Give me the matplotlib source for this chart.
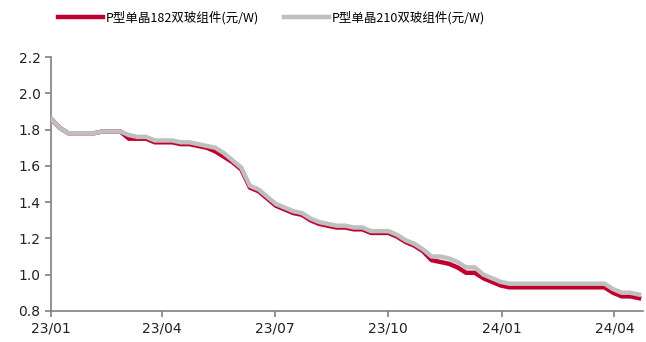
import numpy as np
import pandas as pd
import matplotlib
matplotlib.use('Agg')
import matplotlib.pyplot as plt
import matplotlib.dates as mdates

plt.rcParams['font.family'] = ['Noto Sans CJK SC', 'DejaVu Sans']

# weekly price, yuan/W
dates = pd.date_range('2023-01-01', periods=69, freq='7D')
p182 = [1.86, 1.81, 1.78, 1.78, 1.78, 1.78, 1.79, 1.79, 1.79, 1.75,
        1.75, 1.75, 1.73, 1.73, 1.73, 1.72, 1.72, 1.71, 1.70, 1.68,
        1.65, 1.62, 1.58, 1.48, 1.46, 1.42, 1.38, 1.36, 1.34, 1.33,
        1.30, 1.28, 1.27, 1.26, 1.26, 1.25, 1.25, 1.23, 1.23, 1.23,
        1.21, 1.18, 1.16, 1.13, 1.08, 1.07, 1.06, 1.04, 1.01, 1.01,
        0.98, 0.96, 0.94, 0.93, 0.93, 0.93, 0.93, 0.93, 0.93, 0.93,
        0.93, 0.93, 0.93, 0.93, 0.93, 0.90, 0.88, 0.88, 0.87]
p210 = [1.86, 1.81, 1.78, 1.78, 1.78, 1.78, 1.79, 1.79, 1.79, 1.77,
        1.76, 1.76, 1.74, 1.74, 1.74, 1.73, 1.73, 1.72, 1.71, 1.70,
        1.67, 1.63, 1.59, 1.49, 1.47, 1.43, 1.39, 1.37, 1.35, 1.34,
        1.31, 1.29, 1.28, 1.27, 1.27, 1.26, 1.26, 1.24, 1.24, 1.24,
        1.22, 1.19, 1.17, 1.14, 1.10, 1.10, 1.09, 1.07, 1.04, 1.04,
        1.00, 0.98, 0.96, 0.95, 0.95, 0.95, 0.95, 0.95, 0.95, 0.95,
        0.95, 0.95, 0.95, 0.95, 0.95, 0.92, 0.90, 0.90, 0.89]

labels = ['P型单晶182双玻组件(元/W)', 'P型单晶210双玻组件(元/W)']

fig = plt.figure(figsize=(6.46, 3.42), dpi=100)
ax = fig.add_axes([0.079, 0.091, 0.916, 0.742])

ax.plot(dates, p182, color='#C0002F', lw=3.2, label=labels[0], zorder=2)
ax.plot(dates, p210, color='#BFBFBF', lw=3.2, label=labels[1], zorder=3)

ax.set_ylim(0.8, 2.2)
ax.set_yticks(np.arange(0.8, 2.21, 0.2))
ax.yaxis.set_major_formatter(matplotlib.ticker.FormatStrFormatter('%.1f'))
ax.set_xlim(pd.Timestamp('2023-01-01'), pd.Timestamp('2024-04-24'))
ax.xaxis.set_major_locator(mdates.MonthLocator(bymonth=[1, 4, 7, 10]))
ax.xaxis.set_major_formatter(mdates.DateFormatter('%y/%m'))

for s in ['top', 'right']:
    ax.spines[s].set_visible(False)
for s in ['left', 'bottom']:
    ax.spines[s].set_color('#808080')
    ax.spines[s].set_linewidth(1.2)
ax.tick_params(axis='both', colors='#808080', length=4, width=1.2,
               labelcolor='#222222', labelsize=10)
for lab in ax.get_xticklabels() + ax.get_yticklabels():
    lab.set_family('DejaVu Sans')

fig.legend(loc='upper center', bbox_to_anchor=(0.42, 1.0), ncol=2,
           frameon=False, fontsize=9, handlelength=3.6,
           handletextpad=0.2, columnspacing=2.0)

fig.savefig('out.png', dpi=100)
